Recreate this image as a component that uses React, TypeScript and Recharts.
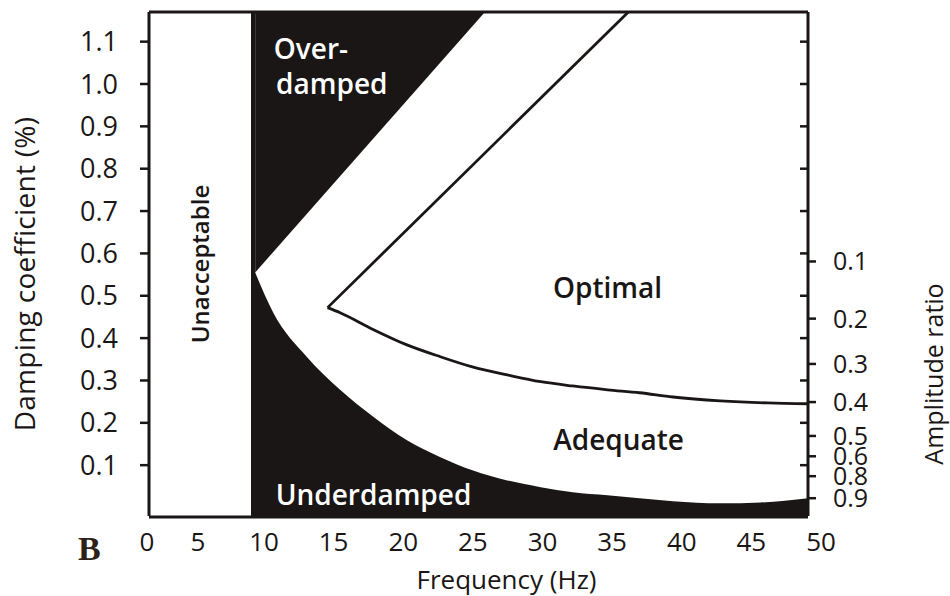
import React from 'react';
import {
  ComposedChart,
  XAxis,
  YAxis,
  Area,
  Line,
  ReferenceArea,
  ReferenceLine,
  ReferenceDot,
  Label,
} from 'recharts';

// ---------- data ----------
const Y_MIN = -0.02;
const Y_MAX = 1.17;

const freqTicksLow = [0, 5];
const freqTicksMain = [10, 15, 20, 25, 30, 35, 40, 45, 50];
const dampingTicks = [0.1, 0.2, 0.3, 0.4, 0.5, 0.6, 0.7, 0.8, 0.9, 1.0, 1.1];

const ampRatioLabels = ['0.1', '0.2', '0.3', '0.4', '0.5', '0.6', '0.8', '0.9'];
const ampRatioDamping = [0.581, 0.446, 0.339, 0.249, 0.169, 0.121, 0.074, 0.022];

// lower edge of the acceptable band (top of "Underdamped")
const underFreq = [10.3, 11.6, 14.0, 16.4, 18.8, 21.2, 23.6, 25.9, 28.4, 30.8, 33.1, 35.6, 37.9, 40.3, 43.7, 46.6, 50];
const underDamping = [0.555, 0.46, 0.356, 0.278, 0.214, 0.159, 0.119, 0.088, 0.064, 0.048, 0.036, 0.029, 0.022, 0.015, 0.01, 0.012, 0.022];

// upper edge of the acceptable band (bottom of "Over-damped")
const overFreq = [10.3, 26.8];
const overDamping = [0.555, 1.17];

// optimal region boundaries
const optUpperFreq = [15.5, 37.1];
const optUpperDamping = [0.472, 1.17];
const optLowerFreq = [15.5, 16.4, 18.8, 21.2, 23.6, 25.9, 28.4, 30.8, 33.1, 35.6, 37.9, 40.3, 43.7, 47.1, 50];
const optLowerDamping = [0.472, 0.46, 0.42, 0.384, 0.356, 0.332, 0.313, 0.297, 0.287, 0.278, 0.271, 0.261, 0.252, 0.247, 0.245];

const unacceptableRange = [0, 10];
const measuredRange = [10, 50];

const zip = (fs: number[], ds: number[]) => fs.map((f, i) => ({ f, d: ds[i] }));
const underData = zip(underFreq, underDamping);
const overData = zip(overFreq, overDamping);
const optUpperData = zip(optUpperFreq, optUpperDamping);
const optLowerData = zip(optLowerFreq, optLowerDamping);
const blackData = zip(measuredRange, [Y_MAX, Y_MAX]);

const FONT = '"Open Sans", "Noto Sans", sans-serif';
const INK = '#1a1616';

const YTitleLeft = (props: any) => {
  const vb = props.viewBox || {};
  const cx = vb.x + 24;
  const cy = vb.y + vb.height / 2 + 10;
  return (
    <text x={cx} y={cy} transform={`rotate(-90 ${cx} ${cy})`} textAnchor="middle" dominantBaseline="central"
      fontFamily={FONT} fontSize={28} fontWeight={500} letterSpacing={0.3} fill={INK}>
      Damping coefficient (%)
    </text>
  );
};

const YTitleRight = (props: any) => {
  const vb = props.viewBox || {};
  const cx = vb.x + 125;
  const cy = vb.y + vb.height / 2 + 110;
  return (
    <text x={cx} y={cy} transform={`rotate(-90 ${cx} ${cy})`} textAnchor="middle" dominantBaseline="central"
      fontFamily={FONT} fontSize={25} fontWeight={500} fill={INK}>
      Amplitude ratio
    </text>
  );
};

const XTitle = (props: any) => {
  const vb = props.viewBox || {};
  const cx = vb.x + vb.width / 2 + 28;
  const cy = vb.y + 72;
  return (
    <text x={cx} y={cy} textAnchor="middle" fontFamily={FONT} fontSize={26} fontWeight={500} fill={INK}>
      Frequency (Hz)
    </text>
  );
};

const inText = { fontSize: 28, fontWeight: 600, fontFamily: FONT };

export default function App() {
  const tickStyle = { fill: INK, fontSize: 27, fontFamily: FONT, fontWeight: 500 };
  return (
    <div style={{ position: 'absolute', left: 0, top: 0, width: 950, height: 596, background: '#fff' }}>
      <ComposedChart width={950} height={596} margin={{ top: 12, right: 42, bottom: 0, left: 0 }}>
        <XAxis
          xAxisId="low"
          dataKey="f"
          type="number"
          domain={unacceptableRange}
          ticks={freqTicksLow}
          interval={0}
          padding={{ left: 0, right: 557 }}
          allowDataOverflow
          axisLine={false}
          tickLine={false}
          tickSize={0}
          tickMargin={17}
          height={1}
          tick={{ ...tickStyle, fontSize: 26, dx: -2 }}
        />
        <XAxis
          xAxisId="main"
          dataKey="f"
          type="number"
          domain={measuredRange}
          ticks={freqTicksMain}
          interval={0}
          padding={{ left: 102, right: 0 }}
          allowDataOverflow
          axisLine={{ stroke: INK, strokeWidth: 3 }}
          tickLine={false}
          tickSize={0}
          tickMargin={16}
          height={79}
          tick={{ ...tickStyle, fontSize: 26, dx: 13 }}
        >
          <Label content={XTitle} />
        </XAxis>
        <YAxis
          yAxisId="left"
          type="number"
          domain={[Y_MIN, Y_MAX]}
          ticks={dampingTicks}
          interval={0}
          allowDataOverflow
          width={149}
          axisLine={{ stroke: INK, strokeWidth: 3 }}
          tickLine={{ stroke: INK, strokeWidth: 2.5 }}
          tickSize={9}
          tickMargin={22}
          tickFormatter={(v: number) => v.toFixed(1)}
          tick={tickStyle}
        >
          <Label content={YTitleLeft} />
        </YAxis>
        <YAxis
          yAxisId="amp"
          orientation="right"
          type="number"
          domain={[Y_MIN, Y_MAX]}
          ticks={ampRatioDamping}
          interval={0}
          allowDataOverflow
          width={100}
          axisLine={{ stroke: INK, strokeWidth: 3 }}
          tickLine={{ stroke: INK, strokeWidth: 2.5 }}
          tickSize={8}
          tickMargin={17}
          tickFormatter={(v: number) => ampRatioLabels[ampRatioDamping.indexOf(v)]}
          tick={{ ...tickStyle, fontSize: 25 }}
        >
          <Label content={YTitleRight} />
        </YAxis>
        <YAxis
          yAxisId="rmirror"
          orientation="right"
          mirror
          type="number"
          domain={[Y_MIN, Y_MAX]}
          ticks={dampingTicks}
          interval={0}
          allowDataOverflow
          axisLine={false}
          tickLine={{ stroke: INK, strokeWidth: 2.5 }}
          tickSize={8}
          tickFormatter={() => ''}
        />

        {/* black background for measured range */}
        <Area xAxisId="main" yAxisId="left" data={blackData} dataKey="d" baseValue={Y_MIN} type="linear"
          fill={INK} fillOpacity={1} stroke="none" isAnimationActive={false} />
        {/* white acceptable band: from lower edge to top */}
        <Area xAxisId="main" yAxisId="left" data={underData} dataKey="d" baseValue={Y_MAX} type="monotone"
          fill="#fff" fillOpacity={1} stroke="none" isAnimationActive={false} />
        {/* over-damped black triangle */}
        <Area xAxisId="main" yAxisId="left" data={overData} dataKey="d" baseValue={Y_MAX} type="linear"
          fill={INK} fillOpacity={1} stroke="none" isAnimationActive={false} />

        <Line xAxisId="main" yAxisId="left" data={optUpperData} dataKey="d" type="linear"
          stroke={INK} strokeWidth={2.8} dot={false} isAnimationActive={false} />
        <Line xAxisId="main" yAxisId="left" data={optLowerData} dataKey="d" type="monotone"
          stroke={INK} strokeWidth={2.8} dot={false} isAnimationActive={false} />

        <ReferenceLine yAxisId="left" xAxisId="main" y={Y_MAX} stroke={INK} strokeWidth={3} />

        <ReferenceArea xAxisId="low" yAxisId="left" x1={unacceptableRange[0]} x2={unacceptableRange[1]}
          y1={Y_MIN} y2={Y_MAX} fill="none" stroke="none">
          <Label value="Unacceptable" angle={-90} position="center" fill={INK} fontSize={24}
            fontWeight={600} fontFamily={FONT} />
        </ReferenceArea>

        <ReferenceDot xAxisId="main" yAxisId="left" x={14.3} y={1.083} r={0} fill="none" stroke="none">
          <Label value="Over-" position="center" fill="#fff" {...inText} />
        </ReferenceDot>
        <ReferenceDot xAxisId="main" yAxisId="left" x={15.8} y={1.0} r={0} fill="none" stroke="none">
          <Label value="damped" position="center" fill="#fff" {...inText} />
        </ReferenceDot>
        <ReferenceDot xAxisId="main" yAxisId="left" x={35.6} y={0.519} r={0} fill="none" stroke="none">
          <Label value="Optimal" position="center" fill={INK} {...inText} />
        </ReferenceDot>
        <ReferenceDot xAxisId="main" yAxisId="left" x={36.4} y={0.159} r={0} fill="none" stroke="none">
          <Label value="Adequate" position="center" fill={INK} {...inText} />
        </ReferenceDot>
        <ReferenceDot xAxisId="main" yAxisId="left" x={18.8} y={0.029} r={0} fill="none" stroke="none">
          <Label value="Underdamped" position="center" fill="#fff" {...inText} />
        </ReferenceDot>
      </ComposedChart>
      <div style={{ position: 'absolute', left: 78, top: 532, fontFamily: '"Liberation Serif", serif', fontWeight: 700,
        fontSize: 34, color: '#2e1f18', lineHeight: 1 }}>
        B
      </div>
    </div>
  );
}
